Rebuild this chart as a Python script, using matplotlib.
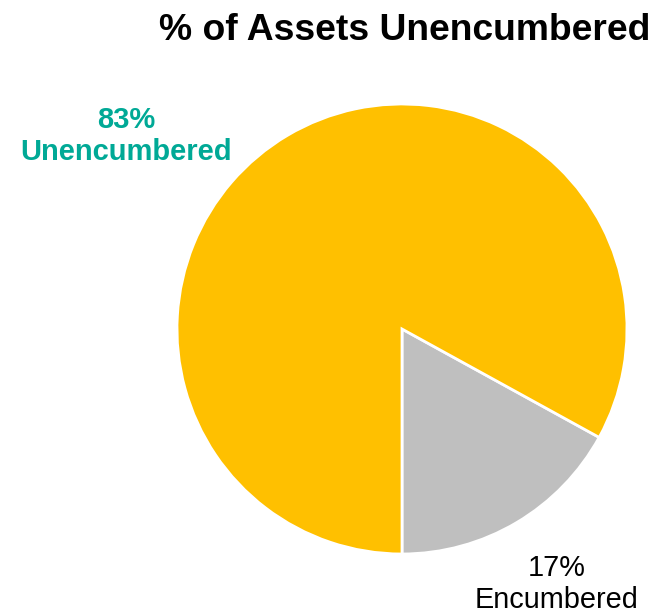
import matplotlib.pyplot as plt

plt.rcParams['font.family'] = ['Liberation Sans', 'DejaVu Sans']

categories = ['Encumbered', 'Unencumbered']
values = [17, 83]
colors = ['#BFBFBF', '#FFC000']
title = '% of Assets Unencumbered'

W, H = 654, 613
fig = plt.figure(figsize=(W / 100, H / 100), dpi=100)

# pie centre (402, 329) px, radius 225 px
cx, cy, r = 402, 329, 225
ax = fig.add_axes([(cx - r) / W, (H - cy - r) / H, 2 * r / W, 2 * r / H])
wedges, _ = ax.pie(values, colors=colors, startangle=-90, counterclock=True,
                   wedgeprops=dict(edgecolor='white', linewidth=2))
for w in wedges:
    w.set_clip_on(False)
ax.set_xlim(-1.0, 1.0)
ax.set_ylim(-1.0, 1.0)
ax.axis('off')

fig.text(405 / W, 1 - 30 / H, title, ha='center', va='center',
         fontsize=26.8, fontweight='bold')

fig.text(126 / W, 1 - 136 / H, f'{values[1]}%\n{categories[1]}',
         ha='center', va='center', fontsize=21, fontweight='bold',
         color='#00A996', linespacing=1.2)
fig.text(557 / W, 1 - 584 / H, f'{values[0]}%\n{categories[0]}',
         ha='center', va='center', fontsize=20.8, color='black',
         linespacing=1.2)

fig.savefig('out.png', dpi=100)
